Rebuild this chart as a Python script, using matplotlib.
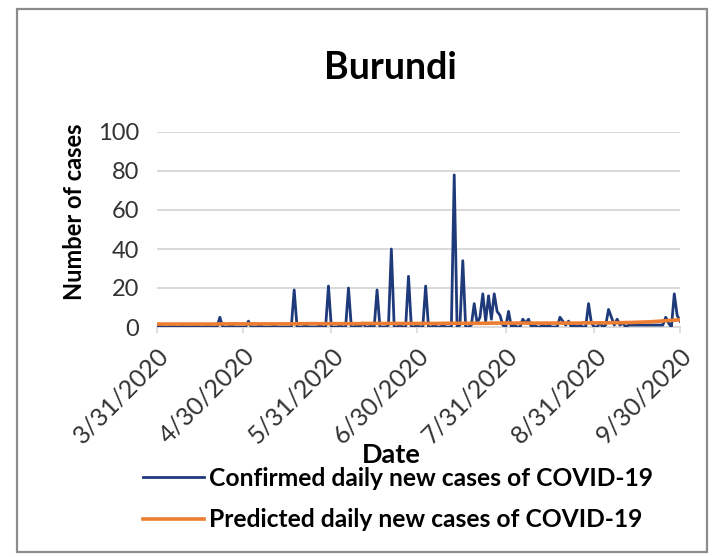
import matplotlib
matplotlib.use("Agg")
import matplotlib.pyplot as plt
import numpy as np
import pandas as pd
from matplotlib.patches import Rectangle

plt.rcParams['font.family'] = ['Lato', 'DejaVu Sans']

# ---- data ----
start_date = "2020-03-31"
end_date = "2020-09-30"

confirmed_mar = [0]
confirmed_apr = [1, 0, 0, 0, 1, 0, 0, 0, 1, 0, 0, 0, 0, 1, 0,
                 0, 0, 1, 0, 0, 0, 5, 0, 0, 0, 1, 0, 0, 0, 0]
confirmed_may = [0, 3, 0, 0, 0, 1, 0, 0, 0, 0, 1, 0, 0, 0, 0, 0,
                 0, 19, 0, 0, 0, 1, 0, 0, 0, 0, 1, 0, 0, 21, 0]
confirmed_jun = [0, 0, 1, 0, 0, 20, 0, 0, 1, 0, 2, 0, 0, 1, 0,
                 19, 0, 0, 0, 1, 40, 0, 0, 1, 0, 0, 26, 0, 0, 1]
confirmed_jul = [0, 0, 21, 0, 0, 1, 0, 0, 1, 0, 0, 0, 78, 0, 1, 34,
                 0, 0, 1, 12, 2, 5, 17, 3, 16, 4, 17, 8, 6, 1, 0]
confirmed_aug = [8, 0, 1, 0, 0, 4, 2, 4, 0, 1, 0, 0, 1, 0, 1, 0,
                 0, 0, 5, 3, 1, 3, 0, 1, 0, 1, 0, 0, 12, 2, 0]
confirmed_sep = [0, 2, 0, 1, 9, 5, 1, 4, 1, 2, 0, 1, 1, 1, 1,
                 1, 1, 1, 1, 1, 1, 1, 1, 1, 5, 2, 0, 17, 6, 3]

predicted_mar = [1.5]
predicted_apr = [1.5, 1.5, 1.5, 1.5, 1.5, 1.5, 1.5, 1.5, 1.5, 1.5,
                 1.5, 1.5, 1.5, 1.5, 1.5, 1.5, 1.5, 1.5, 1.5, 1.5,
                 1.5, 1.6, 1.6, 1.6, 1.6, 1.6, 1.6, 1.6, 1.6, 1.6]
predicted_may = [1.6, 1.6, 1.6, 1.6, 1.6, 1.6, 1.6, 1.6, 1.6, 1.6,
                 1.6, 1.6, 1.6, 1.6, 1.6, 1.6, 1.6, 1.6, 1.7, 1.7,
                 1.7, 1.7, 1.7, 1.7, 1.7, 1.7, 1.7, 1.7, 1.7, 1.7, 1.7]
predicted_jun = [1.7, 1.7, 1.7, 1.7, 1.7, 1.7, 1.7, 1.7, 1.7, 1.7,
                 1.8, 1.8, 1.8, 1.8, 1.8, 1.8, 1.8, 1.8, 1.8, 1.8,
                 1.8, 1.8, 1.8, 1.8, 1.8, 1.8, 1.8, 1.8, 1.8, 1.8]
predicted_jul = [1.8, 1.8, 1.8, 1.8, 1.8, 1.8, 1.8, 1.8, 1.9, 1.9,
                 1.9, 1.9, 1.9, 1.9, 1.9, 1.9, 1.9, 1.9, 1.9, 1.9,
                 1.9, 1.9, 1.9, 1.9, 1.9, 2.0, 2.0, 2.0, 2.0, 2.0, 2.0]
predicted_aug = [2.0, 2.0, 2.0, 2.0, 2.0, 2.0, 2.0, 2.0, 2.0, 2.0,
                 2.0, 2.0, 2.0, 2.0, 2.0, 2.0, 2.0, 2.0, 2.0, 2.0,
                 2.0, 2.0, 2.0, 2.0, 2.0, 2.0, 2.1, 2.1, 2.1, 2.1, 2.1]
predicted_sep = [2.1, 2.1, 2.1, 2.1, 2.1, 2.2, 2.2, 2.2, 2.2, 2.2,
                 2.3, 2.3, 2.3, 2.4, 2.4, 2.5, 2.5, 2.6, 2.6, 2.7,
                 2.8, 2.9, 3.0, 3.1, 3.2, 3.3, 3.4, 3.5, 3.6, 3.7]

tick_dates = ["2020-03-31", "2020-04-30", "2020-05-31", "2020-06-30",
              "2020-07-31", "2020-08-31", "2020-09-30"]
tick_labels = ["3/31/2020", "4/30/2020", "5/31/2020", "6/30/2020",
               "7/31/2020", "8/31/2020", "9/30/2020"]
y_ticks = [0, 20, 40, 60, 80, 100]

title = "Burundi"
x_label = "Date"
y_label = "Number of cases"
series_names = ["Confirmed daily new cases of COVID-19",
                "Predicted daily new cases of COVID-19"]

confirmed = (confirmed_mar + confirmed_apr + confirmed_may + confirmed_jun
             + confirmed_jul + confirmed_aug + confirmed_sep)
predicted = (predicted_mar + predicted_apr + predicted_may + predicted_jun
             + predicted_jul + predicted_aug + predicted_sep)
dates = pd.date_range(start_date, end_date, freq="D")

# ---- figure ----
W, H = 715, 557
fig = plt.figure(figsize=(W / 100, H / 100), dpi=100)
fig.patch.set_facecolor("white")

# outer chart border
fig.patches.append(Rectangle((17 / W, 1 - 552 / H), (707 - 17) / W, (552 - 9) / H,
                             transform=fig.transFigure, fill=False,
                             edgecolor="#8c8c8c", linewidth=1.6, zorder=0))

x0, x1, ytop, ybot = 157, 680, 132, 327
ax = fig.add_axes([x0 / W, 1 - ybot / H, (x1 - x0) / W, (ybot - ytop) / H])

blue = "#1f3a7a"
orange = "#ED7D31"
ax.plot(dates, confirmed, color=blue, linewidth=2.0, label=series_names[0], zorder=3)
ax.plot(dates, predicted, color=orange, linewidth=2.6, label=series_names[1], zorder=4)

ax.set_xlim(pd.Timestamp(start_date), pd.Timestamp(end_date))
ax.set_ylim(0, 100)
ax.set_yticks(y_ticks)
ax.set_yticklabels([str(v) for v in y_ticks], fontsize=17, color="#333333")
ax.set_xticks(pd.to_datetime(tick_dates))
ax.set_xticklabels(tick_labels, rotation=45, ha="right", rotation_mode="anchor",
                   fontsize=18, color="#333333")

ax.grid(axis="y", color="#d9d9d9", linewidth=1.4)
ax.set_axisbelow(True)
for s in ["top", "right", "left"]:
    ax.spines[s].set_visible(False)
ax.spines["bottom"].set_color("#d9d9d9")
ax.spines["bottom"].set_linewidth(1.4)
ax.tick_params(axis="y", length=0, pad=13)
ax.tick_params(axis="x", length=4, color="#d9d9d9", width=1.2, pad=8)

fig.text(390 / W, 1 - 68 / H, title, fontsize=27, fontweight="bold",
         ha="center", va="center")

ax.set_ylabel(y_label, fontsize=17, fontweight="bold")
ax.yaxis.set_label_coords((86 - x0) / (x1 - x0), (ybot - 212) / (ybot - ytop))
ax.set_xlabel(x_label, fontsize=19.5, fontweight="bold")
ax.xaxis.set_label_coords((391 - x0) / (x1 - x0), (ybot - 443) / (ybot - ytop))

leg = fig.legend(loc="upper left", bbox_to_anchor=(143 / W, 1 - 467 / H),
                 frameon=False, fontsize=17.7, handlelength=2.48, handletextpad=0.2,
                 labelspacing=0.75, borderpad=0, borderaxespad=0)
for t in leg.get_texts():
    t.set_fontweight("bold")

fig.savefig("out.png", dpi=100, facecolor="white")
